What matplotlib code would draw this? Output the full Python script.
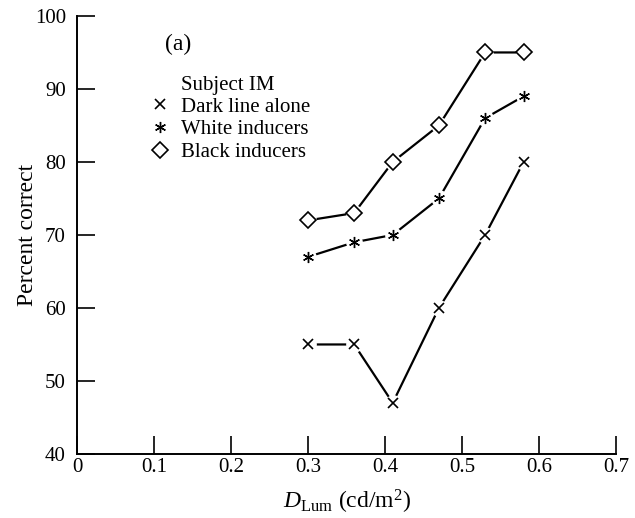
import matplotlib
matplotlib.use("Agg")
import matplotlib.pyplot as plt
from matplotlib.lines import Line2D

plt.rcParams['font.family'] = ['Liberation Serif', 'DejaVu Serif']
plt.rcParams['mathtext.fontset'] = 'custom'
plt.rcParams['mathtext.rm'] = 'Liberation Serif'
plt.rcParams['mathtext.it'] = 'Liberation Serif:italic'

# data
lum = [0.30, 0.36, 0.41, 0.47, 0.53, 0.58]
dark_line = [55, 55, 47, 60, 70, 80]
white_ind = [67, 69, 70, 75, 86, 89]
black_ind = [72, 73, 80, 85, 95, 95]

labels = ['Dark line alone', 'White inducers', 'Black inducers']
asterisk = (6, 2, 0)

fig = plt.figure(figsize=(6.35, 5.18), dpi=100)
ax = fig.add_axes([0.1213, 0.1236, 0.8488, 0.8456])

# lines with small gaps around the markers
styles = [(dark_line, 'x', 7, 1.2), (white_ind, asterisk, 8, 1.0), (black_ind, 'D', 8.5, 1.2)]
for y, m, ms, mew in styles:
    ax.plot(lum, y, color='k', lw=1.6, zorder=2)
    ax.plot(lum, y, 'o', ms=11, color='white', zorder=3)
    ax.plot(lum, y, ls='none', marker=m, ms=ms, mfc='white', mec='k', mew=mew, zorder=4)

ax.set_xlim(0, 0.7)
ax.set_ylim(40, 100)
ax.set_xticks([0, 0.1, 0.2, 0.3, 0.4, 0.5, 0.6, 0.7])
ax.set_xticklabels(['0', '0.1', '0.2', '0.3', '0.4', '0.5', '0.6', '0.7'])
ax.set_yticks([40, 50, 60, 70, 80, 90, 100])
ax.spines['top'].set_visible(False)
ax.spines['right'].set_visible(False)
ax.spines['left'].set_linewidth(1.4)
ax.spines['bottom'].set_linewidth(1.4)
ax.tick_params(axis='x', direction='in', length=13, width=1.2, labelsize=15, pad=3)
ax.tick_params(axis='y', direction='in', length=13, width=1.2, labelsize=15, pad=8)

ax.set_xlabel(r'$D_{\mathrm{Lum}}$ (cd/m$^2$)', fontsize=17, labelpad=8)
ax.set_ylabel('Percent correct', fontsize=17, labelpad=-2)

ax.text(0.163, 0.934, '(a)', transform=ax.transAxes, fontsize=17, va='center')
ax.text(0.193, 0.842, 'Subject IM', transform=ax.transAxes, fontsize=15, va='center')

handles = [Line2D([], [], ls='none', marker='x', ms=7, mec='k', mew=1.2),
           Line2D([], [], ls='none', marker=asterisk, ms=8, mec='k', mew=1.0),
           Line2D([], [], ls='none', marker='D', ms=8.5, mfc='white', mec='k', mew=1.2)]
ax.legend(handles, labels, loc='upper left', bbox_to_anchor=(0.135, 0.815),
          frameon=False, fontsize=15, handlelength=1.0, handletextpad=0.5,
          labelspacing=0.15, borderpad=0, borderaxespad=0)

fig.savefig('out.png', dpi=100)
